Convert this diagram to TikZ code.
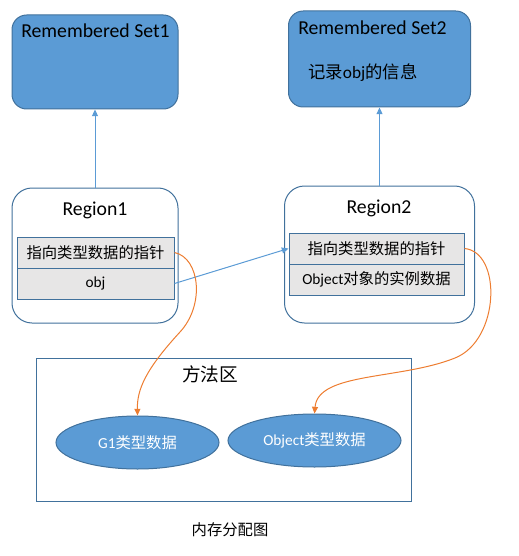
\documentclass[tikz,border=0pt]{standalone}
\usepackage{fontspec}
\setmainfont{Carlito}
\newfontfamily\cjk{Noto Sans CJK SC}
\usetikzlibrary{shapes.geometric,arrows.meta}
\definecolor{setblue}{RGB}{91,155,213}
\definecolor{edgeblue}{RGB}{65,113,156}
\definecolor{lineorange}{RGB}{237,125,49}
\definecolor{cellgray}{RGB}{231,230,230}

\begin{document}
\begin{tikzpicture}[x=0.75pt,y=0.75pt,yscale=-1,xscale=1,
  setbox/.style={draw=edgeblue,fill=setblue,rounded corners=11pt,line width=0.75pt,inner sep=0pt},
  regionbox/.style={draw=edgeblue,fill=white,rounded corners=15pt,line width=0.75pt,inner sep=0pt},
  cellbox/.style={draw=edgeblue,fill=cellgray,line width=0.75pt,inner sep=0pt,font=\fontsize{11.5}{13}\selectfont},
  dataell/.style={ellipse,draw=edgeblue,fill=setblue,line width=0.75pt,inner sep=0pt,text=white,font=\fontsize{11.5}{13}\selectfont},
  bigtext/.style={inner sep=0.75pt,font=\fontsize{14.8}{17}\selectfont},
  bluearr/.style={draw=setblue,line width=0.75pt,-{Triangle[length=5pt,width=4.5pt]}},
  orangearr/.style={draw=lineorange,line width=0.75pt,-{Triangle[length=5pt,width=4.5pt]}}
]
\path [use as bounding box] (0,0) rectangle (518,556);

%Shape: Rounded Rect [Remembered Set1]
\node [setbox, minimum width=124.5pt, minimum height=70.5pt] (set1) at (95,62) {};
% Text Node
\node [bigtext, anchor=west] (set1title) at (20,31) {Remembered Set1};

%Shape: Rounded Rect [Remembered Set2]
\node [setbox, minimum width=136.5pt, minimum height=72pt] (set2) at (379.5,59) {};
% Text Node
\node [bigtext, anchor=west] (set2title) at (297,28) {Remembered Set2};
% Text Node
\node [anchor=west, inner sep=0.75pt, font=\fontsize{13}{15}\selectfont] (set2note) at (307,73) {{\cjk 记录}obj{\cjk 的信息}};

%Shape: Rounded Rect [Region1]
\node [regionbox, minimum width=124.5pt, minimum height=101.25pt] (r1) at (95,255.5) {};
\node [bigtext] (r1title) at (95,210) {Region1};
\node [cellbox, minimum width=117.75pt, minimum height=23.25pt] (r1a) at (95.5,252.5) {\cjk 指向类型数据的指针};
\node [cellbox, minimum width=117.75pt, minimum height=23.25pt] (r1b) at (95.5,283.5) {obj};

%Shape: Rounded Rect [Region2]
\node [regionbox, minimum width=142.5pt, minimum height=102.75pt] (r2) at (379.5,254.5) {};
\node [bigtext] (r2title) at (379,208) {Region2};
\node [cellbox, minimum width=131.25pt, minimum height=23.25pt] (r2a) at (376.5,248.5) {\cjk 指向类型数据的指针};
\node [cellbox, minimum width=131.25pt, minimum height=23.25pt] (r2b) at (376.5,279.5) {Object{\cjk 对象的实例数据}};

%Shape: Rectangle [method area]
\node [draw=edgeblue, line width=0.75pt, inner sep=0pt, minimum width=281.25pt, minimum height=107.25pt] (method) at (223.5,429.5) {};
\node [inner sep=0.75pt, font=\cjk\fontsize{14}{16}\selectfont] (methodtitle) at (210,374) {方法区};
%Shape: Ellipse
\node [dataell, minimum width=122.25pt, minimum height=39.75pt] (g1) at (137.5,442.5) {G1{\cjk 类型数据}};
%Shape: Ellipse
\node [dataell, minimum width=129.75pt, minimum height=39.75pt] (g2) at (314.5,440.5) {Object{\cjk 类型数据}};

% Text Node
\node [inner sep=0.75pt, font=\cjk\fontsize{11.5}{13}\selectfont] (caption) at (230,530) {内存分配图};

%Straight Lines
\draw [bluearr] (r1.north) -- (set1.south);
\draw [bluearr] (r2.north) -- (set2.south);
\draw [bluearr] (r1b.east) -- (r2a.west);
%Curve Lines
\draw [orangearr] (r1a.east) .. controls (200,258) and (205,305) .. (180,332) .. controls (145,370) and (137,390) .. (g1.north);
\draw [orangearr] (r2a.east) .. controls (502,252) and (500,340) .. (455,358) .. controls (400,380) and (318,372) .. (g2.north);

\end{tikzpicture}
\end{document}
